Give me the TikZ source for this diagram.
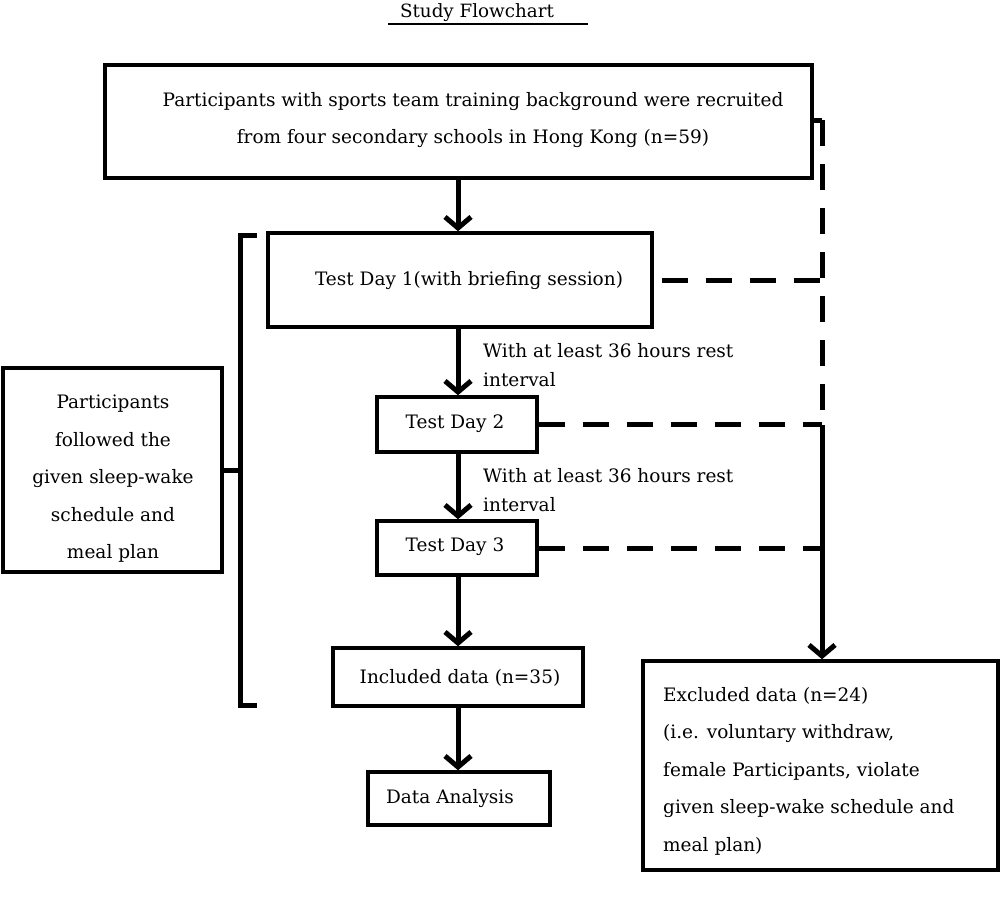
\documentclass[tikz,border=0pt]{standalone}
\usepackage{fontspec}
\setmainfont{DejaVu Serif}
\usetikzlibrary{arrows.meta,calc}
\begin{document}
\begin{tikzpicture}[x=1pt,y=-1pt,
  box/.style={draw=black, line width=3.5pt, fill=white, inner sep=0pt},
  txt/.style={font=\fontsize{18.5}{37.5}\selectfont, inner sep=0pt},
  arr/.style={line width=5pt, -{Straight Barb[length=11pt,width=26pt,line width=5pt]}},
  dsh/.style={line width=5pt, dash pattern=on 26pt off 18pt},
  brk/.style={line width=5pt}
]
\useasboundingbox[fill=white] (0,0) rectangle (1000,908);

% title
\node[txt, font=\fontsize{18.3}{20}\selectfont, anchor=base] (title) at (477,17) {Study Flowchart};
\draw[line width=2.5pt] (388,24) -- (588,24);

% boxes
\node[box, minimum width=707pt, minimum height=113pt] (top) at (458.5,121.5) {};
\node[box, minimum width=384pt, minimum height=94pt] (td1) at (460,280) {};
\node[box, minimum width=160pt, minimum height=55pt] (td2) at (457,424.5) {};
\node[box, minimum width=160pt, minimum height=54pt] (td3) at (457,548) {};
\node[box, minimum width=250pt, minimum height=58pt] (incl) at (458,677) {};
\node[box, minimum width=182pt, minimum height=53pt] (da) at (459,798.5) {};
\node[box, minimum width=355pt, minimum height=209pt] (excl) at (820.5,765.5) {};
\node[box, minimum width=219pt, minimum height=204pt] (left) at (112.5,470) {};

% texts
\node[txt, align=center] (ttop) at (473,120) {Participants with sports team training background were recruited\\from four secondary schools in Hong Kong (n=59)};
\node[txt] (ttd1) at (469,281) {Test Day 1(with briefing session)};
\node[txt] (ttd2) at (455,424) {Test Day 2};
\node[txt] (ttd3) at (455,547) {Test Day 3};
\node[txt] (tincl) at (460,678) {Included data (n=35)};
\node[txt] (tda) at (450,799) {Data Analysis};
\node[txt, align=left, anchor=west] (texcl) at (663,771) {Excluded data (n=24)\\(i.e. voluntary withdraw,\\female Participants, violate\\given sleep-wake schedule and\\meal plan)};
\node[txt, align=center] (tleft) at (113,479) {Participants\\followed the\\given sleep-wake\\schedule and\\meal plan};

\node[txt, anchor=base west] (l1a) at (483,357) {With at least 36 hours rest};
\node[txt, anchor=base west] (l1b) at (483,386) {interval};
\node[txt, anchor=base west] (l2a) at (483,482) {With at least 36 hours rest};
\node[txt, anchor=base west] (l2b) at (483,511) {interval};

% main column arrows
\coordinate (col) at (458,0);
\draw[arr] (top.south -| col) -- (td1.north -| col);
\draw[arr] (td1.south -| col) -- (td2.north -| col);
\draw[arr] (td2.south -| col) -- (td3.north -| col);
\draw[arr] (td3.south -| col) -- (incl.north -| col);
\draw[arr] (incl.south -| col) -- (da.north -| col);

% right exclusion line
\coordinate (r0) at (822,120);
\coordinate (r1) at (822,425);
\draw[line width=5pt] (top.east |- r0) -- (r0);
\draw[dsh] (r0) -- (r1);
\draw[arr] (r1) -- (excl.north -| r1);
\draw[dsh] (td1.east) ++(8,0) coordinate (d1s) -- (d1s -| r0);
\draw[dsh] (td2.east) -- (td2.east -| r0);
\draw[dsh] (td3.east) -- (td3.east -| r0);

% bracket
\coordinate (b0) at (240,235);
\coordinate (b1) at (240,705);
\draw[brk] (257,235) -- (b0) -- (b1) -- (257,705);
\draw[brk] (left.east) -- (left.east -| b0);
\end{tikzpicture}
\end{document}
